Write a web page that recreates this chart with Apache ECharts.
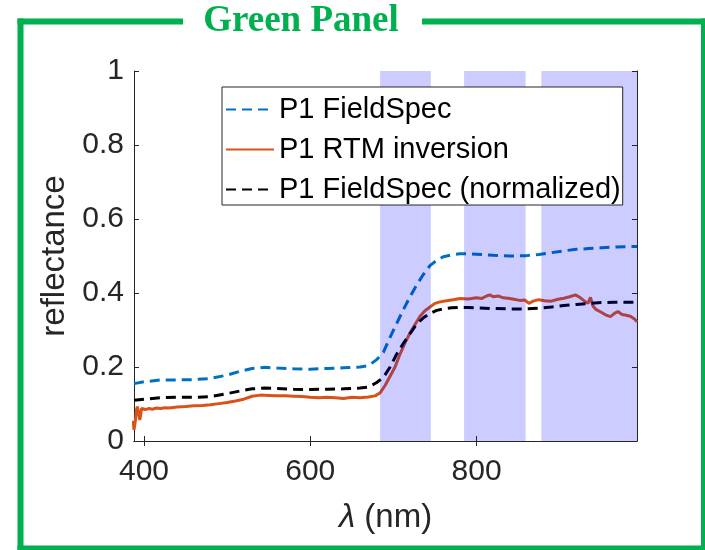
<!DOCTYPE html>
<html>
<head>
<meta charset="utf-8">
<script src="https://cdn.jsdelivr.net/npm/echarts@6/dist/echarts.min.js"></script>
<style>
  html, body { margin: 0; padding: 0; background: #fff; }
  #chart { width: 705px; height: 550px; }
</style>
</head>
<body>
<div id="chart"></div>
<script>
// wavelengths (nm) shared by the two FieldSpec curves
var wlField = [388, 400, 420, 440, 460, 480, 500, 515, 530, 545, 560, 580, 600, 620, 640, 660, 670, 680, 688, 696,
  704, 712, 720, 728, 736, 744, 752, 760, 770, 780, 790, 800, 820, 840, 860, 875, 890, 905, 920, 935, 950, 965, 980, 993];
var fieldSpec = [0.155, 0.16, 0.165, 0.165, 0.166, 0.169, 0.178, 0.188, 0.196, 0.199, 0.197, 0.195, 0.194, 0.196, 0.198, 0.2, 0.204, 0.22, 0.24, 0.28,
  0.318, 0.355, 0.39, 0.422, 0.45, 0.474, 0.488, 0.498, 0.503, 0.506, 0.506, 0.505, 0.502, 0.5, 0.501, 0.504, 0.509, 0.514, 0.518, 0.52, 0.522, 0.524, 0.525, 0.526];
var fieldSpecNorm = [0.11, 0.113, 0.117, 0.118, 0.118, 0.12, 0.128, 0.135, 0.141, 0.143, 0.142, 0.14, 0.139, 0.14, 0.141, 0.143, 0.146, 0.158, 0.172, 0.2,
  0.235, 0.264, 0.29, 0.316, 0.333, 0.345, 0.353, 0.357, 0.36, 0.361, 0.361, 0.36, 0.358, 0.357, 0.357, 0.359, 0.362, 0.366, 0.369, 0.372, 0.374, 0.375, 0.375, 0.375];

// RTM inversion
var wlRtm = [387, 388, 389, 390, 391, 392, 393, 394, 395, 396, 397, 399, 402, 406, 410, 415, 420, 425, 430, 440,
  450, 460, 470, 480, 490, 500, 510, 520, 530, 540, 550, 560, 570, 580, 590, 600, 610, 620, 630, 640,
  650, 660, 670, 678, 684, 690, 696, 702, 708, 714, 720, 726, 732, 738, 744, 750, 756, 764, 772, 780,
  790, 800, 806, 812, 816, 820, 826, 832, 838, 845, 852, 858, 863, 868, 875, 882, 890, 898, 905, 912,
  919, 925, 930, 934, 937, 940, 944, 950, 956, 961, 966, 970, 975, 980, 985, 990, 993];
var rtm = [0.055, 0.03, 0.035, 0.06, 0.085, 0.093, 0.09, 0.07, 0.057, 0.07, 0.088, 0.09, 0.085, 0.088, 0.086, 0.089, 0.088, 0.09, 0.089, 0.092,
  0.093, 0.095, 0.096, 0.098, 0.101, 0.104, 0.108, 0.113, 0.121, 0.124, 0.123, 0.122, 0.122, 0.121, 0.12, 0.118, 0.117, 0.118, 0.117, 0.115,
  0.118, 0.117, 0.119, 0.122, 0.13, 0.15, 0.175, 0.2, 0.235, 0.265, 0.292, 0.315, 0.337, 0.352, 0.362, 0.372, 0.376, 0.379, 0.382, 0.385,
  0.384, 0.387, 0.385, 0.392, 0.395, 0.39, 0.392, 0.387, 0.386, 0.383, 0.38, 0.381, 0.372, 0.378, 0.382, 0.379, 0.378, 0.383, 0.386, 0.39,
  0.395, 0.387, 0.378, 0.372, 0.388, 0.365, 0.355, 0.348, 0.34, 0.336, 0.345, 0.35, 0.342, 0.34, 0.337, 0.33, 0.322];

// shaded spectral bands (nm)
var bandStart = [684, 785, 878];
var bandEnd = [745, 859, 993];

var xTicks = [400, 600, 800];
var green = '#00b04f';
var axisColor = '#262626';
var sans = '"Liberation Sans", Arial, Helvetica, sans-serif';

function pairs(xs, ys) {
  return xs.map(function (x, i) { return [x, ys[i]]; });
}

var bands = bandStart.map(function (s, i) { return [s, bandEnd[i]]; });

var axisX = {
  type: 'value', min: 388, max: 993,
  axisLine: {show: true, lineStyle: {color: axisColor, width: 1}},
  axisTick: {show: true, inside: true, length: 5, customValues: xTicks, lineStyle: {color: axisColor}},
  splitLine: {show: false}
};
var axisY = {
  type: 'value', min: 0, max: 1, interval: 0.2,
  axisLine: {show: true, lineStyle: {color: axisColor, width: 1}},
  axisTick: {show: true, inside: true, length: 5, lineStyle: {color: axisColor}},
  splitLine: {show: false}
};

var option = {
  animation: false,
  backgroundColor: '#fff',
  grid: {left: 134, right: 68, top: 71, bottom: 109, containLabel: false},
  xAxis: [
    Object.assign({}, axisX, {
      position: 'bottom',
      name: '{i|λ} (nm)',
      nameLocation: 'middle',
      nameGap: 60,
      nameTextStyle: {fontSize: 33, color: axisColor, fontFamily: sans,
        rich: {i: {fontSize: 33, fontStyle: 'italic', color: axisColor, fontFamily: sans}}},
      axisLabel: {show: true, customValues: xTicks, fontSize: 30, color: axisColor, fontFamily: sans, margin: 16}
    }),
    Object.assign({}, axisX, {position: 'top', axisLabel: {show: false}})
  ],
  yAxis: [
    Object.assign({}, axisY, {
      position: 'left',
      name: 'reflectance',
      nameLocation: 'middle',
      nameGap: 61,
      nameTextStyle: {fontSize: 33, color: axisColor, fontFamily: sans},
      axisLabel: {show: true, fontSize: 30, color: axisColor, fontFamily: sans, margin: 10}
    }),
    Object.assign({}, axisY, {position: 'right', axisLabel: {show: false}})
  ],
  legend: {
    left: 222, top: 87,
    orient: 'vertical',
    backgroundColor: '#fff',
    borderColor: axisColor,
    borderWidth: 1,
    borderRadius: 0,
    padding: [8, 2, 1, 3],
    itemGap: 11,
    itemWidth: 48,
    itemHeight: 14,
    itemStyle: {opacity: 0},
    textStyle: {fontSize: 29, color: '#000', fontFamily: sans},
    data: ['P1 FieldSpec', 'P1 RTM inversion', 'P1 FieldSpec (normalized)']
  },
  graphic: [
    {type: 'line', shape: {x1: 17.5, y1: 21.5, x2: 183, y2: 21.5}, style: {stroke: green, lineWidth: 6}},
    {type: 'line', shape: {x1: 422, y1: 21.5, x2: 705, y2: 21.5}, style: {stroke: green, lineWidth: 6}},
    {type: 'line', shape: {x1: 20.5, y1: 18.5, x2: 20.5, y2: 550}, style: {stroke: green, lineWidth: 6}},
    {type: 'line', shape: {x1: 704, y1: 18.5, x2: 704, y2: 550}, style: {stroke: green, lineWidth: 6}},
    {type: 'line', shape: {x1: 17.5, y1: 548.5, x2: 705, y2: 548.5}, style: {stroke: green, lineWidth: 6}},
    {type: 'text', x: 301, y: 21, style: {text: 'Green Panel', fill: green, font: 'bold 37px "Liberation Serif", "Times New Roman", serif',
      textAlign: 'center', textVerticalAlign: 'middle'}}
  ],
  series: [
    {
      name: 'P1 FieldSpec', type: 'line', symbol: 'none', z: 2,
      data: pairs(wlField, fieldSpec),
      lineStyle: {color: '#0072bd', width: 3, type: [10, 6]},
      itemStyle: {color: '#0072bd'}
    },
    {
      name: 'P1 RTM inversion', type: 'line', symbol: 'none', z: 2,
      data: pairs(wlRtm, rtm),
      lineStyle: {color: '#d95319', width: 3},
      itemStyle: {color: '#d95319'}
    },
    {
      name: 'P1 FieldSpec (normalized)', type: 'line', symbol: 'none', z: 2,
      data: pairs(wlField, fieldSpecNorm),
      lineStyle: {color: '#000', width: 3, type: [10, 6]},
      itemStyle: {color: '#000'}
    },
    {
      name: 'bands', type: 'custom', z: 3, silent: true,
      data: bands,
      encode: {x: [0, 1]},
      renderItem: function (params, api) {
        var p0 = api.coord([api.value(0), 1]);
        var p1 = api.coord([api.value(1), 0]);
        return {
          type: 'rect',
          shape: {x: p0[0], y: p0[1], width: p1[0] - p0[0], height: p1[1] - p0[1]},
          style: {fill: 'rgba(0,0,255,0.2)'}
        };
      }
    }
  ]
};

var chart = echarts.init(document.getElementById('chart'), null, {renderer: 'canvas'});
chart.setOption(option);
</script>
</body>
</html>
